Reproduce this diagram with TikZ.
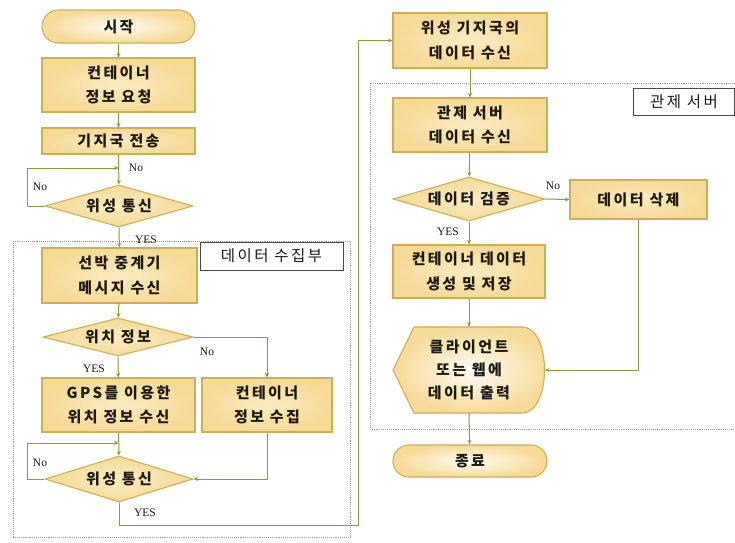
\documentclass[tikz,border=0pt]{standalone}
\usepackage{fontspec}
\setmainfont{Liberation Serif}
\newfontfamily\kr[LetterSpace=16]{Noto Sans CJK KR}
\usetikzlibrary{shapes.geometric,shapes.misc,arrows.meta}
\definecolor{boxf}{HTML}{F6DA96}
\definecolor{boxi}{HTML}{FBEBC2}
\definecolor{boxd}{HTML}{CDAE55}
\definecolor{ln}{HTML}{8A9B3D}
\definecolor{dsh}{HTML}{9A9AA2}
\definecolor{txt}{HTML}{1E1A16}
\tikzset{
  words/.style={inner sep=0pt, align=center, text=txt,
    font=\kr\bfseries\fontsize{15}{24.5}\selectfont},
  base/.style={words, draw=boxd, line width=1.1pt,
    shading=radial, inner color=boxi, outer color=boxf},
  box/.style={base, rectangle},
  term/.style={base, rounded rectangle, inner color=white!85!boxi},
  dec/.style={base, diamond, shape aspect=3.5},
  conn/.style={draw=ln, line width=1pt, -{Stealth[length=4.5pt,width=4pt]}},
  plain/.style={draw=ln, line width=1pt},
  group/.style={draw=dsh, line width=0.9pt, densely dotted},
  tag/.style={draw=txt!80, fill=white, line width=0.9pt, inner sep=0pt,
    text=txt, font=\kr\fontsize{15.5}{17}\selectfont},
  lbl/.style={text=txt, font=\fontsize{11.5}{13}\selectfont, inner sep=0pt}
}
\begin{document}
\begin{tikzpicture}[x=1pt,y=-1pt]
\useasboundingbox[fill=white] (0,0) rectangle (735,542);
% group frames
\draw[group] (13,241) rectangle (350,537);
\draw[group] (370,83) rectangle (745,429);
% left column
\node[term, minimum width=153, minimum height=33] (start) at (118.5,26.5) {시작};
\node[box, minimum width=153, minimum height=54] (req) at (118.5,85) {컨테이너\\정보 요청};
\node[box, minimum width=153, minimum height=26] (bs) at (118.5,141) {기지국 전송};
\node[dec, minimum width=148, minimum height=42] (d1) at (119,206) {위성 통신};
\node[box, minimum width=155, minimum height=55] (ship) at (119.5,275.5) {선박 중계기\\메시지 수신};
\node[dec, minimum width=150, minimum height=38] (d2) at (118,337) {위치 정보};
\node[box, minimum width=153, minimum height=54] (gps) at (118.5,405) {GPS를 이용한\\위치 정보 수신};
\node[box, minimum width=130, minimum height=54] (coll) at (267,405) {컨테이너\\정보 수집};
\node[dec, minimum width=148, minimum height=46] (d3) at (119,479) {위성 통신};
\node[tag, minimum width=143, minimum height=28] (tag1) at (271.5,256) {데이터 수집부};
% right column
\node[box, minimum width=154, minimum height=55] (sat) at (470,40.5) {위성 기지국의\\데이터 수신};
\node[box, minimum width=154, minimum height=54] (srv) at (470,125) {관제 서버\\데이터 수신};
\node[dec, minimum width=152, minimum height=44] (d4) at (469,199) {데이터 검증};
\node[box, minimum width=137, minimum height=39] (del) at (638.5,199.5) {데이터 삭제};
\node[box, minimum width=152, minimum height=53] (gen) at (469,271.5) {컨테이너 데이터\\생성 및 저장};
\shade[draw=boxd, line width=1.1pt, inner color=white!85!boxi, outer color=boxf]
  (393,370) -- (414,327) -- (522,327) .. controls (552,327) and (552,413) .. (522,413)
  -- (414,413) -- cycle;
\node[words, font=\kr\bfseries\fontsize{15}{23}\selectfont, minimum width=151, minimum height=86] (disp) at (469,370) {클라이언트\\또는 웹에\\데이터 출력};
\node[term, minimum width=154, minimum height=32] (end) at (470,461) {종료};
\node[tag, minimum width=101, minimum height=27] (tag2) at (684,101.5) {관제 서버};
% coordinates
\coordinate (m1) at (118.5,168);
\coordinate (l1) at (27,168);
\coordinate (m2) at (118.5,443);
\coordinate (l2) at (27,443);
\coordinate (y1) at (358,525);
\coordinate (y2) at (358,40.5);
% connectors left
\draw[conn] (start) -- (req);
\draw[conn] (req) -- (bs);
\draw[conn] (bs) -- (d1);
\draw[plain] (d1.west) -| (l1);
\draw[conn] (l1) -- (m1);
\draw[conn] (d1) -- (ship);
\draw[conn] (ship) -- (d2);
\draw[conn] (d2) -- (gps);
\draw[conn] (d2.east) -| (coll.north);
\draw[conn] (gps) -- (d3);
\draw[plain] (d3.west) -| (l2);
\draw[conn] (l2) -- (m2);
\draw[conn] (coll.south) |- (d3.east);
\draw[plain] (d3.south) |- (y1) -- (y2);
\draw[conn] (y2) -- (sat.west);
% connectors right
\draw[conn] (sat) -- (srv);
\draw[conn] (srv) -- (d4);
\draw[conn] (d4.east) -- (del.west);
\draw[conn] (d4) -- (gen);
\draw[conn] (gen) -- (disp.north);
\draw[conn] (del.south) |- (disp.east);
\draw[conn] (disp.south) -- (end);
% labels
\node[lbl] (n1) at (136,168) {No};
\node[lbl] (n2) at (40,187) {No};
\node[lbl] (y3) at (146,240) {YES};
\node[lbl] (n3) at (207,352) {No};
\node[lbl] (y4) at (94,369) {YES};
\node[lbl] (n4) at (40,463) {No};
\node[lbl] (y5) at (145,513) {YES};
\node[lbl] (n5) at (553,186) {No};
\node[lbl] (y6) at (448,232) {YES};
\end{tikzpicture}
\end{document}
